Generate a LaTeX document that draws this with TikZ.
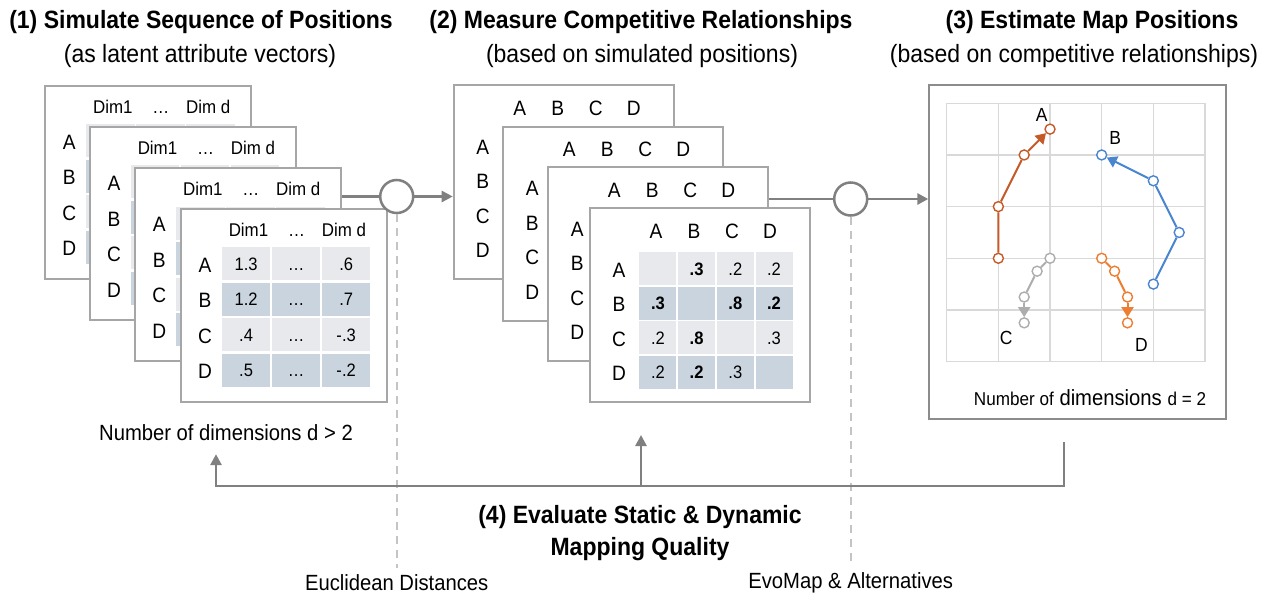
\documentclass[tikz,border=0pt]{standalone}
\usepackage{fontspec}
\setmainfont[FakeStretch=0.92]{Liberation Sans}
\usetikzlibrary{arrows.meta}

\definecolor{framegray}{HTML}{A6A6A6}
\definecolor{mapframe}{HTML}{8C8C8C}
\definecolor{linegray}{HTML}{808080}
\definecolor{guidegray}{HTML}{C4C4C4}
\definecolor{gridgray}{HTML}{D9D9D9}
\definecolor{cellLight}{HTML}{E8E9EC}
\definecolor{cellDark}{HTML}{C9D4DF}
\definecolor{pathA}{HTML}{C55A28}
\definecolor{pathB}{HTML}{4A86CF}
\definecolor{pathC}{HTML}{ADADAD}
\definecolor{pathD}{HTML}{ED7D31}

\newcommand{\notesmall}[1]{{\fontsize{9.3}{11}\selectfont #1}}

\begin{document}
\begin{tikzpicture}[x=0.5pt, y=-0.5pt,
    sheet/.style={draw=framegray, line width=1pt, fill=white, anchor=north west,
        inner sep=0pt, minimum width=103pt, minimum height=96.5pt},
    matsheet/.style={sheet, minimum width=110pt, minimum height=97pt},
    vcell/.style={anchor=north west, inner sep=0pt, minimum width=24.25pt, minimum height=16.5pt},
    rcell/.style={vcell, minimum width=18.5pt},
    valtxt/.style={inner sep=0pt, text height=6.4pt, text depth=0pt, font=\fontsize{9}{10}\selectfont},
    headtxt/.style={inner sep=0pt, text height=6.6pt, text depth=0pt, font=\fontsize{9.2}{10}\selectfont},
    rowtxt/.style={inner sep=0pt, font=\fontsize{10.4}{11}\selectfont},
    steptitle/.style={font=\fontsize{12.5}{16}\selectfont\bfseries},
    stepsub/.style={font=\fontsize{12.5}{16}\selectfont},
    notetxt/.style={font=\fontsize{11}{13}\selectfont},
    joint/.style={circle, draw=linegray, line width=1.25pt, fill=white, minimum size=16.5pt, inner sep=0pt},
    flow/.style={draw=linegray, line width=1.3pt},
    flowhead/.style={-{Triangle[length=5.5pt, width=5.5pt]}},
    guide/.style={draw=guidegray, line width=0.8pt, dash pattern=on 4pt off 3pt},
    gridline/.style={draw=gridgray, line width=0.75pt},
    posdot/.style={circle, fill=white, line width=0.7pt, minimum size=5pt, inner sep=0pt},
    trail/.style={line width=1pt},
    trailhead/.style={-{Triangle[length=5pt, width=6pt]}},
    maplabel/.style={font=\fontsize{9.5}{10}\selectfont}]

    \useasboundingbox (0,0) rectangle (1268,599);
    \fill[white] (0,0) rectangle (1268,599);

    % titles
    \node[steptitle] (simTitle) at (201,22) {(1) Simulate Sequence of Positions};
    \node[stepsub] (simSub) at (200,56) {(as latent attribute vectors)};
    \node[steptitle] (relTitle) at (641,22) {(2) Measure Competitive Relationships};
    \node[stepsub] (relSub) at (642,56) {(based on simulated positions)};
    \node[steptitle] (mapTitle) at (1092,22) {(3) Estimate Map Positions};
    \node[stepsub] (mapSub) at (1074,56) {(based on competitive relationships)};

    % (1) attribute vectors
    \foreach \k/\bx/\by in {1/44.3/84.7, 2/89/126, 3/134.3/167.3, 4/180/207.7} {
        \begin{scope}[shift={(\bx,\by)}]
            \node[sheet] (vec\k) at (0,0) {};
            \node[headtxt] (vec\k-d1) at (68.5,22) {Dim1};
            \node[headtxt] (vec\k-dm) at (116.5,22) {…};
            \node[headtxt] (vec\k-dd) at (164,22) {Dim d};
            \foreach \r/\ry/\shade in {A/39/cellLight, B/74.5/cellDark, C/110/cellLight, D/145.5/cellDark} {
                \node[rowtxt] (vec\k-\r) at (25,\ry+18.5) {\r};
                \foreach \c/\cx in {1/41.5, 2/91.5, 3/141.5}
                    \node[vcell, fill=\shade] (vec\k-\r\c) at (\cx,\ry) {};
            }
        \end{scope}
    }
    \foreach \cell/\v in {A1/1.3, A2/…, A3/.6, B1/1.2, B2/…, B3/.7,
                          C1/.4, C2/…, C3/-.3, D1/.5, D2/…, D3/-.2}
        \node[valtxt] (val-\cell) at (vec4-\cell) {\v};
    \node[notetxt] (dimsHigh) at (226,433) {Number of dimensions d > 2};

    % (2) competitive relationships
    \foreach \k/\bx/\by in {1/452.7/84, 2/502.3/125.7, 3/547.3/166, 4/589/207.3} {
        \begin{scope}[shift={(\bx,\by)}]
            \node[matsheet] (rel\k) at (0,0) {};
            \foreach \c/\cx in {A/67, B/105, C/143, D/181}
                \node[rowtxt] (rel\k-h\c) at (\cx,24) {\c};
            \foreach \r/\ry/\shade in {A/44.5/cellLight, B/79/cellDark, C/113.5/cellLight, D/148/cellDark} {
                \node[rowtxt] (rel\k-\r) at (30,\ry+18.5) {\r};
                \foreach \c/\cx in {A/50, B/88.7, C/127.4, D/166.1}
                    \node[rcell, fill=\shade] (rel\k-\r\c) at (\cx,\ry) {};
            }
        \end{scope}
    }
    \foreach \cell/\v in {AB/\textbf{.3}, AC/.2, AD/.2, BA/\textbf{.3}, BC/\textbf{.8}, BD/\textbf{.2},
                          CA/.2, CB/\textbf{.8}, CD/.3, DA/.2, DB/\textbf{.2}, DC/.3}
        \node[valtxt] (w-\cell) at (rel4-\cell) {\v};

    % (3) map
    \node[sheet, draw=mapframe, minimum width=148.35pt, minimum height=167.15pt] (map) at (928.3,84) {};
    \begin{scope}[shift={(946.7,103.3)}, x=25.83pt, y=-25.83pt]
        \foreach \g in {0,...,5} {
            \draw[gridline] (\g,0) -- (\g,5);
            \draw[gridline] (0,\g) -- (5,\g);
        }
        \node[posdot, draw=pathA] (A1) at (1,3) {};
        \node[posdot, draw=pathA] (A2) at (1,2) {};
        \node[posdot, draw=pathA] (A3) at (1.5,1) {};
        \node[posdot, draw=pathA] (A4) at (2,0.5) {};
        \node[posdot, draw=pathB] (B1) at (4,3.5) {};
        \node[posdot, draw=pathB] (B2) at (4.5,2.5) {};
        \node[posdot, draw=pathB] (B3) at (4,1.5) {};
        \node[posdot, draw=pathB] (B4) at (3,1) {};
        \node[posdot, draw=pathC] (C1) at (2,3) {};
        \node[posdot, draw=pathC] (C2) at (1.75,3.25) {};
        \node[posdot, draw=pathC] (C3) at (1.5,3.75) {};
        \node[posdot, draw=pathC] (C4) at (1.5,4.25) {};
        \node[posdot, draw=pathD] (D1) at (3,3) {};
        \node[posdot, draw=pathD] (D2) at (3.25,3.25) {};
        \node[posdot, draw=pathD] (D3) at (3.5,3.75) {};
        \node[posdot, draw=pathD] (D4) at (3.5,4.25) {};
        \foreach \p in {A,B,C,D} {
            \draw[trail, draw=path\p] (\p1) -- (\p2) -- (\p3);
            \draw[trail, draw=path\p, fill=path\p, trailhead] (\p3) -- (\p4);
        }
        \node[maplabel] (labA) at (1.84,0.23) {A};
        \node[maplabel] (labB) at (3.26,0.67) {B};
        \node[maplabel] (labC) at (1.15,4.54) {C};
        \node[maplabel] (labD) at (3.77,4.68) {D};
    \end{scope}
    \node[notetxt] (mapNote) at (1090,398) {\notesmall{Number of} dimensions \notesmall{d = 2}};

    % joints between the steps
    \node[joint] (join1) at (396.7,196.5) {};
    \node[joint] (join2) at (850.7,199) {};
    \draw[flow] (vec3.east |- join1) -- (join1);
    \draw[flow, flowhead] (join1) -- (rel1.west |- join1);
    \draw[flow] (rel3.east |- join2) -- (join2);
    \draw[flow, flowhead] (join2) -- (map.west |- join2);

    % (4) evaluation
    \node[steptitle, align=center] (evalTitle) at (640,533) {(4) Evaluate Static \& Dynamic\\Mapping Quality};
    \node[notetxt] (euclid) at (396.7,583) {Euclidean Distances};
    \node[notetxt] (evomap) at (850.7,583) {EvoMap \& Alternatives};
    \draw[guide] (join1.south) -- (join1.south |- euclid.north);
    \draw[guide] (join2.south) -- (join2.south |- evomap.north);

    \coordinate (loopTop) at (1064,442);
    \coordinate (loopRight) at (1064,486);
    \coordinate (loopLeft) at (216,486);
    \coordinate (loopMid) at (641,486);
    \coordinate (loopMidTip) at (641,435);
    \draw[flow, flowhead, shorten >=3pt] (loopTop) -- (loopRight) -- (loopLeft) -- (loopLeft |- dimsHigh.south);
    \draw[flow, flowhead] (loopMid) -- (loopMidTip);
\end{tikzpicture}
\end{document}
